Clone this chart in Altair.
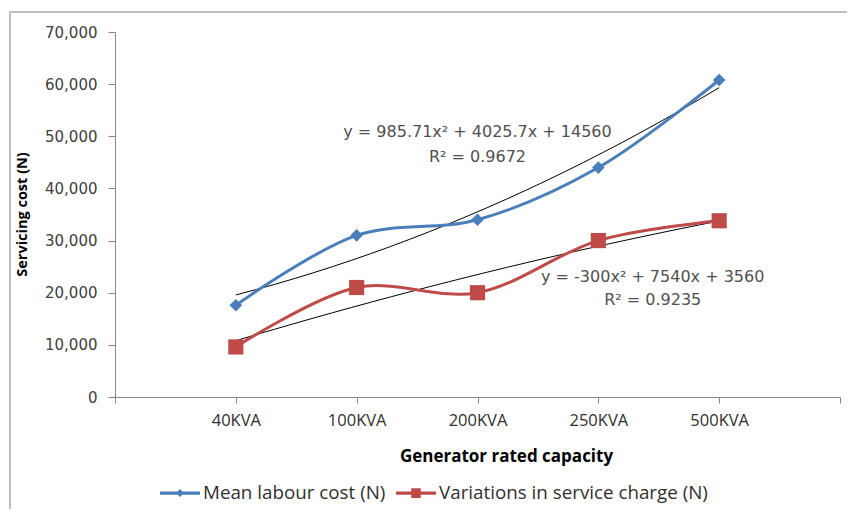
import json
import altair as alt
import pandas as pd

# ---- data ----
categories = ["40KVA", "100KVA", "200KVA", "250KVA", "500KVA"]
cat_index = [1, 2, 3, 4, 5]
labour_cost = [17600, 31000, 34000, 44000, 60800]
service_charge = [9600, 21000, 20000, 30000, 33800]
series_names = ["Mean labour cost (N)", "Variations in service charge (N)"]
series_colors = ["#4A7EBB", "#BE4B48"]
series_shapes = ["diamond", "square"]
series_marker_sizes = [160, 230]
y_ticks = [0, 10000, 20000, 30000, 40000, 50000, 60000, 70000]

eq_text = ["y = 985.71x² + 4025.7x + 14560", "R² = 0.9672",
           "y = -300x² + 7540x + 3560", "R² = 0.9235"]
eq_x = [3.0, 3.0, 4.45, 4.45]
eq_y = [50800, 46000, 23000, 18600]

df = pd.DataFrame({
    "idx": cat_index * 2,
    "value": labour_cost + service_charge,
    "series": [series_names[0]] * len(cat_index) + [series_names[1]] * len(cat_index),
})
eq_df = pd.DataFrame({"text": eq_text, "idx": eq_x, "value": eq_y})
frame_df = pd.DataFrame({"a": [0]})

LABEL = "#404040"
AXIS = "#868686"
cats_js = json.dumps(categories)

x_enc = alt.X(
    "idx:Q",
    scale=alt.Scale(domain=[0, 6], nice=False, zero=False),
    axis=alt.Axis(
        values=list(range(7)),
        labelExpr=f"datum.value >= 1 && datum.value <= 5 ? {cats_js}[datum.value - 1] : ''",
        title="Generator rated capacity",
        titleFont="Open Sans", titleFontSize=17, titleFontWeight="bold", titleColor="#000000",
        titleX=391, titleY=59, titleAlign="center", titleBaseline="middle",
        labelFont="Open Sans", labelFontSize=16.5, labelColor="#303030", labelPadding=9,
        tickSize=6, tickColor=AXIS, domainColor=AXIS, grid=False,
        labelFlush=False, labelOverlap=False,
    ),
)
y_enc = alt.Y(
    "value:Q",
    scale=alt.Scale(domain=[0, 70000], nice=False),
    axis=alt.Axis(
        values=y_ticks, format=",.0f",
        title="Servicing cost (N)",
        titleFont="Open Sans", titleFontSize=14.5, titleFontWeight="bold", titleColor="#000000",
        titleX=-93, titleY=182, titleAlign="center", titleBaseline="middle", titleAngle=-90,
        labelFont="DejaVu Sans", labelFontSize=15, labelColor=LABEL, labelPadding=11,
        tickSize=7, tickColor=AXIS, domainColor=AXIS, grid=False,
    ),
)

layers = []

trend = alt.Chart(df).transform_regression(
    "idx", "value", method="poly", order=2, groupby=["series"]
).mark_line(color="#000000", strokeWidth=1).encode(
    x=x_enc, y=y_enc, detail="series:N",
)
layers.append(trend)

for name, col, shp, sz in zip(series_names, series_colors, series_shapes, series_marker_sizes):
    sub = alt.Chart(df).transform_filter(alt.datum.series == name)
    layers.append(sub.mark_line(color=col, strokeWidth=3, interpolate="catmull-rom").encode(
        x=x_enc, y=y_enc))
    layers.append(sub.mark_point(shape=shp, filled=True, size=sz, opacity=1, color=col).encode(
        x=x_enc, y=y_enc))

eqs = alt.Chart(eq_df).mark_text(
    font="DejaVu Sans", fontSize=16, color="#505050", align="center", baseline="middle"
).encode(x=x_enc, y=y_enc, text="text:N")
layers.append(eqs)

legend_props = dict(
    title=None, orient="none", legendX=45, legendY=441, direction="horizontal",
    symbolSize=1600, symbolOpacity=1, symbolStrokeWidth=0,
    labelFont="Open Sans", labelFontSize=18.8, labelColor="#303030", labelOffset=3,
    labelLimit=500, columnPadding=10,
)
legend_shapes = [
    "M-1,-0.08L1,-0.08L1,0.08L-1,0.08Z M0,-0.2L0.2,0L0,0.2L-0.2,0Z",
    "M-1,-0.08L1,-0.08L1,0.08L-1,0.08Z M-0.24,-0.24L0.24,-0.24L0.24,0.24L-0.24,0.24Z",
]
legend_layer = alt.Chart(df).mark_point(filled=True, opacity=0).encode(
    x=x_enc, y=y_enc,
    color=alt.Color("series:N", scale=alt.Scale(domain=series_names, range=series_colors),
                    legend=alt.Legend(**legend_props)),
    shape=alt.Shape("series:N", scale=alt.Scale(domain=series_names, range=legend_shapes),
                    legend=alt.Legend(**legend_props)),
)
layers.append(legend_layer)

# light chart-area border (top and left edges), drawn last
frame_v = alt.Chart(frame_df).mark_rule(color="#BEBEBE", strokeWidth=2).encode(
    x=alt.value(-105), y=alt.value(-20), y2=alt.value(480))
frame_h = alt.Chart(frame_df).mark_rect(color="#BEBEBE").encode(
    x=alt.value(-106), x2=alt.value(735), y=alt.value(-21), y2=alt.value(-19))
layers += [frame_v, frame_h]

chart = alt.layer(*layers).properties(
    width=725, height=365,
    autosize=alt.AutoSizeParams(type="none"),
    padding={"left": 107, "top": 24, "right": 7, "bottom": 112},
).configure_view(stroke=None)

chart.save("out.html", embed_options={"renderer": "svg", "actions": False})
